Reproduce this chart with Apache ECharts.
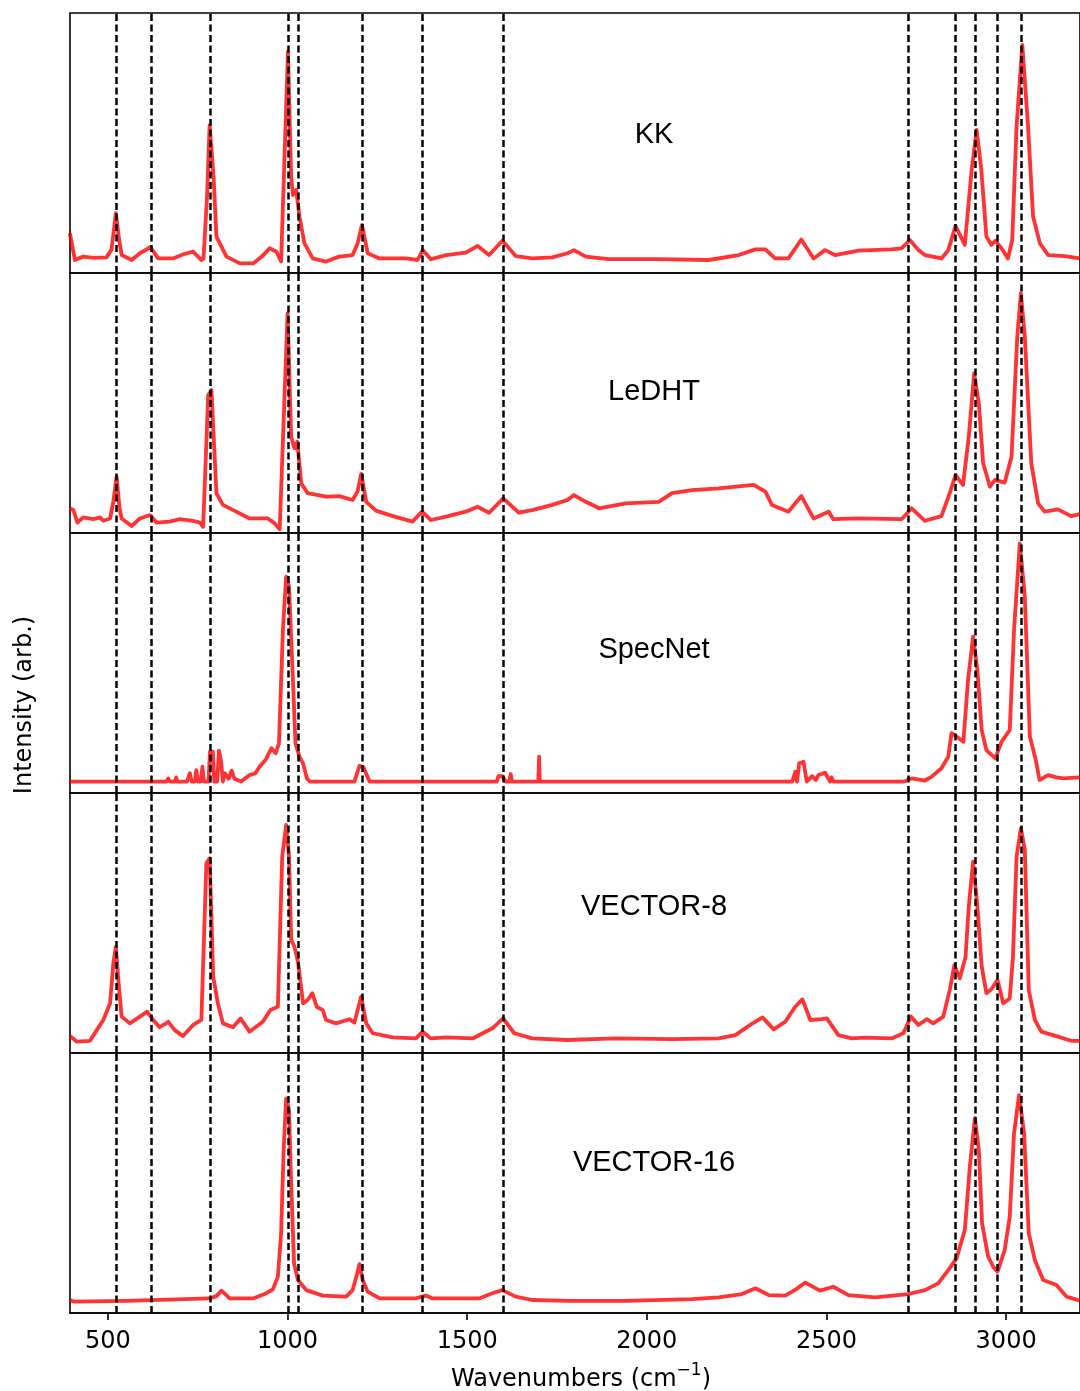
<!DOCTYPE html>
<html>
<head>
<meta charset="utf-8">
<script src="https://cdn.jsdelivr.net/npm/echarts@6/dist/echarts.min.js"></script>
<style>
  html, body { margin: 0; padding: 0; background: #fff; }
  #chart { width: 1080px; height: 1391px; }
</style>
</head>
<body>
<div id="chart"></div>
<script>
// spectra: [wavenumber, intensity in % of panel height]
const kk = [[394,15.3],[408,5.0],[431,6.3],[460,5.8],[496,6.0],[510,9],[522,23],[530,14],[538,6.9],[566,5.0],[589,7.6],[618,9.9],[640,5.6],[681,5.6],[710,7.2],[737,8.2],[760,5.0],[766,5.5],[776,30],[783,56.9],[794,37],[802,14],[830,6.3],[867,3.7],[904,3.7],[930,6.5],[950,9.5],[969,8.2],[982,4.4],[1001,85.1],[1010,37],[1015,30],[1024,31.9],[1033,21.7],[1047,11.4],[1070,5.6],[1107,4.4],[1144,6.3],[1181,6.9],[1195,11.4],[1207,18.5],[1223,7.6],[1256,5.6],[1330,5.6],[1362,5.0],[1376,8.8],[1399,5.3],[1441,6.9],[1496,7.8],[1529,10.4],[1561,6.9],[1598,12.4],[1635,6.5],[1681,5.6],[1737,6.0],[1779,7.6],[1797,8.8],[1830,6.3],[1894,5.3],[2033,5.3],[2172,5.0],[2256,6.9],[2302,9.1],[2330,9.1],[2357,5.6],[2394,5.6],[2430,12.9],[2464,5.6],[2496,8.8],[2524,6.9],[2589,8.6],[2681,9.1],[2709,9.5],[2732,12.7],[2756,8.8],[2774,6.9],[2820,5.6],[2839,8.8],[2859,18.1],[2885,10.8],[2904,39.6],[2918,55],[2931,39.6],[2945,14],[2959,10.8],[2970,12.4],[2987,9.5],[3005,5.6],[3017,12.7],[3029,56.3],[3045,87.7],[3061,56.3],[3075,21.7],[3094,11.4],[3117,6.9],[3163,6.5],[3205,5.6]];

const ledht = [[394,9.5],[404,8.8],[415,4.0],[431,6.0],[459,5.3],[478,6.0],[487,4.7],[506,5.6],[515,12],[524,21.7],[532,10],[538,5.6],[566,2.7],[589,5.6],[617,6.9],[635,4.0],[672,4.4],[700,5.3],[737,4.7],[756,4.0],[765,2.4],[779,53],[788,55],[802,15.3],[820,10.8],[857,8.2],[894,5.6],[945,5.6],[964,3.7],[978,1.4],[1000,84.5],[1010,37],[1019,32.6],[1027,35.1],[1038,19.1],[1056,15.3],[1107,14],[1144,14.2],[1181,12.7],[1195,16],[1205,22.7],[1219,12],[1246,8.6],[1293,6.5],[1348,4.4],[1374,8.2],[1399,5.0],[1441,6.3],[1496,8.2],[1529,10.1],[1561,7.8],[1600,13.3],[1644,7.8],[1681,8.8],[1737,10.8],[1779,12.7],[1797,14.6],[1830,12],[1867,9.5],[1941,11.4],[2033,12],[2070,15.3],[2126,16.5],[2200,17.2],[2297,18.5],[2330,15.9],[2348,10.8],[2394,8.2],[2430,14.2],[2464,5.6],[2506,8.2],[2519,5.3],[2589,5.6],[2709,5.3],[2737,9.5],[2774,4.7],[2820,6.5],[2843,15.3],[2859,22.3],[2880,18.5],[2896,37],[2911,61.4],[2924,49.9],[2936,26.8],[2955,17.8],[2969,20.4],[2996,19.4],[3015,29.3],[3031,75.5],[3041,92.2],[3052,75.5],[3070,26.8],[3089,11.4],[3107,8.2],[3144,9.1],[3181,6.5],[3205,7.3]];

const specnet = [[394,4.4],[663,4.4],[668,5.6],[672,4.4],[688,4.4],[690,6],[693,4.4],[720,4.4],[728,7.6],[733,4.4],[742,4.4],[746,8.8],[750,4.4],[758,4.4],[763,10.1],[767,4.4],[780,4.4],[784,15.9],[792,15.9],[796,4.4],[804,4.4],[809,16.3],[815,12],[820,4.4],[826,7.6],[836,5.5],[844,8.6],[852,5.5],[871,4.4],[894,6.9],[910,7.5],[922,10.1],[940,13],[955,17.2],[967,15.3],[976,19.1],[987,62.7],[996,83.2],[1004,79.4],[1013,49.9],[1022,19.1],[1033,14],[1043,11.4],[1054,5.6],[1062,4.4],[1186,4.4],[1200,10.4],[1211,10],[1228,4.4],[1582,4.4],[1587,6.5],[1598,6.5],[1607,4.4],[1617,4.4],[1621,7.3],[1625,4.4],[1698,4.4],[1700,14],[1702,4.4],[2376,4.4],[2405,4.4],[2413,8.2],[2418,4.4],[2424,11.4],[2436,12],[2445,4.4],[2460,6.5],[2470,5],[2478,6.9],[2496,7.8],[2510,4.4],[2514,6],[2519,4.4],[2716,4.4],[2737,5.6],[2774,4.8],[2793,6.3],[2820,9.5],[2839,14],[2848,23],[2862,21.7],[2881,19.7],[2894,43.5],[2908,60.1],[2920,47.3],[2932,24.2],[2945,16.5],[2970,13.3],[2987,19.7],[3010,24.2],[3022,62.7],[3038,96],[3052,75.5],[3066,21.7],[3082,13],[3093,5],[3117,6.9],[3140,6],[3160,5.6],[3205,6]];

const vector8 = [[394,6.5],[413,4.4],[450,4.7],[469,8.8],[487,12.7],[506,19.1],[515,34.5],[522,40.9],[529,28.1],[538,14],[561,11.4],[589,14],[609,15.9],[626,12.7],[644,9.9],[668,12],[686,8.8],[709,6.5],[737,10.8],[760,12.7],[774,73],[783,74.9],[793,29.3],[806,19.1],[820,11.4],[848,9.9],[869,13.3],[894,8.2],[931,12],[952,16.5],[973,17.8],[985,75.5],[996,87.7],[1004,75.5],[1010,43.5],[1019,40.9],[1029,35.1],[1043,19.1],[1056,20.4],[1069,23],[1081,17.8],[1098,16.5],[1107,12.7],[1135,11.4],[1172,13],[1186,11.7],[1205,21.7],[1219,11.4],[1237,7.6],[1293,6],[1357,5.6],[1376,8.2],[1399,5.6],[1441,6],[1515,5.6],[1570,9.5],[1600,13.3],[1631,7.6],[1681,5.6],[1779,5],[1913,5.6],[2070,5.3],[2200,5.6],[2246,6.9],[2292,11.2],[2322,13.7],[2353,9.1],[2385,12],[2413,17.8],[2433,20.6],[2455,12.7],[2487,13],[2501,13.3],[2533,6.9],[2570,5.6],[2607,5.9],[2681,5.6],[2714,7.6],[2735,14],[2756,10.8],[2779,13],[2797,11.4],[2825,14],[2843,24.2],[2856,33.8],[2871,28.7],[2887,37],[2896,56.3],[2908,73.6],[2920,56.3],[2932,33.2],[2945,23],[2959,24.5],[2976,28.1],[2992,19.1],[3010,21],[3019,37],[3029,75.5],[3041,86.4],[3052,78.1],[3063,24.2],[3080,12.7],[3098,8.2],[3144,6.3],[3181,4.7],[3205,4.7]];

const vector16 = [[394,5],[404,4.4],[552,4.7],[783,5.6],[802,6.5],[816,8.6],[839,5.6],[904,5.6],[941,7.6],[959,9.1],[973,14],[982,30.6],[989,62.7],[996,82.5],[1004,78.1],[1010,49.9],[1018,19.1],[1029,12.7],[1052,8.8],[1098,6.7],[1163,6.3],[1181,8.8],[1194,15.3],[1200,18.8],[1209,12.7],[1223,8.2],[1256,5.6],[1357,5.6],[1385,6.7],[1404,5.6],[1533,5.6],[1570,7.6],[1598,8.8],[1635,6.3],[1681,5],[1783,4.7],[1941,4.7],[2126,5.3],[2200,6],[2265,7.3],[2302,9.5],[2339,6.9],[2385,6.7],[2415,9.1],[2441,11.7],[2482,8.6],[2519,10.1],[2561,6.9],[2635,6],[2728,7.3],[2774,8.8],[2811,11.4],[2839,16.5],[2862,21],[2885,31.9],[2899,56.3],[2913,74.9],[2924,62.7],[2933,34.5],[2950,21.7],[2964,17.8],[2976,15.9],[2996,24.2],[3010,37],[3022,69.1],[3036,83.8],[3050,69.1],[3063,30.6],[3080,20.4],[3103,12.7],[3140,10.8],[3168,6.3],[3205,4.7]];

const panelNames = ['KK', 'LeDHT', 'SpecNet', 'VECTOR-8', 'VECTOR-16'];
const panelData = [kk, ledht, specnet, vector8, vector16];

// reference peak positions (dashed lines)
const peakLines = [522, 621, 785, 1002, 1029, 1207, 1376, 1601, 2728, 2859, 2913, 2974, 3042];

const xTicks = [500, 1000, 1500, 2000, 2500, 3000];

const chart = echarts.init(document.getElementById('chart'));

const PANEL_TOP = 13;
const PANEL_H = 260;
const last = panelNames.length - 1;
// vertical offset of each panel label from the panel top
const labelOffset = [122, 119, 117, 114, 110];

const grids = [], xAxes = [], yAxes = [], series = [], graphics = [];

panelNames.forEach((name, i) => {
  grids.push({
    left: 70,
    top: PANEL_TOP + PANEL_H * i,
    width: 1012,
    height: PANEL_H,
    show: true,
    borderColor: '#000',
    borderWidth: 1.6,
    backgroundColor: 'transparent'
  });
  xAxes.push({
    type: 'value',
    gridIndex: i,
    min: 394.4,
    max: 3205.6,
    splitLine: { show: false },
    axisLine: { show: i === last, lineStyle: { color: '#000', width: 1.6 } },
    axisTick: {
      show: i === last,
      customValues: xTicks,
      length: 7,
      lineStyle: { color: '#000', width: 1.6 }
    },
    axisLabel: {
      show: i === last,
      customValues: xTicks,
      formatter: v => String(v),
      margin: 17,
      color: '#000',
      fontSize: 24,
      fontFamily: 'DejaVu Sans'
    }
  });
  yAxes.push({ type: 'value', gridIndex: i, min: 0, max: 100, show: false });
  series.push({
    name: name,
    type: 'line',
    xAxisIndex: i,
    yAxisIndex: i,
    data: panelData[i],
    showSymbol: false,
    clip: true,
    lineStyle: { color: 'rgba(255,0,0,0.8)', width: 3.8, join: 'round' },
    markLine: {
      silent: true,
      symbol: ['none', 'none'],
      label: { show: false },
      lineStyle: { color: '#000', type: [7, 3.5], width: 2.5 },
      data: peakLines.map(v => ({ xAxis: v }))
    }
  });
  graphics.push({
    type: 'text',
    x: 654,
    y: PANEL_TOP + PANEL_H * i + labelOffset[i],
    style: {
      text: name,
      fill: '#000',
      fontSize: 29,
      fontFamily: 'Liberation Sans, Arial, sans-serif',
      align: 'center',
      verticalAlign: 'middle',
      textAlign: 'center',
      textVerticalAlign: 'middle'
    }
  });
});

// axis titles
graphics.push({
  type: 'text',
  x: 581,
  y: 1377,
  style: {
    text: '{a|Wavenumbers (cm}{b|\u22121}{a|)}',
    rich: {
      a: { fontSize: 24, fontFamily: 'DejaVu Sans', fill: '#000', lineHeight: 30, verticalAlign: 'bottom' },
      b: { fontSize: 17, fontFamily: 'DejaVu Sans', fill: '#000', lineHeight: 18, verticalAlign: 'top' }
    },
    align: 'center', verticalAlign: 'middle',
    textAlign: 'center', textVerticalAlign: 'middle'
  }
});
graphics.push({
  type: 'text',
  x: 25,
  y: 705,
  rotation: Math.PI / 2,
  style: {
    text: 'Intensity (arb.)',
    fill: '#000',
    fontSize: 24,
    fontFamily: 'DejaVu Sans',
    align: 'center', verticalAlign: 'middle',
    textAlign: 'center', textVerticalAlign: 'middle'
  }
});

const option = {
  animation: false,
  backgroundColor: '#fff',
  grid: grids,
  xAxis: xAxes,
  yAxis: yAxes,
  series: series,
  graphic: graphics
};

chart.setOption(option);
</script>
</body>
</html>
